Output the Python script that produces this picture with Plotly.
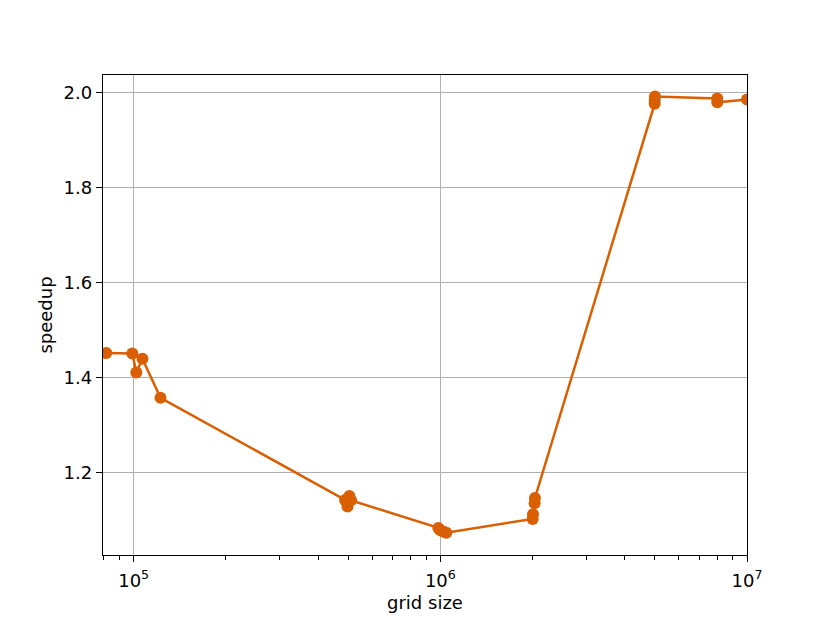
import plotly.graph_objs as go

grid_size = [81400, 99000, 102000, 106800, 122300,
             489000, 498000, 505000, 512000,
             985000, 1000000, 1025000, 1046000,
             2000000, 2005000, 2030000, 2035000,
             5000000, 5000000, 5010000,
             8000000, 8000000,
             10000000]
speedup = [1.451, 1.450, 1.410, 1.439, 1.357,
           1.142, 1.128, 1.150, 1.141,
           1.083, 1.078, 1.075, 1.073,
           1.102, 1.112, 1.135, 1.146,
           1.976, 1.984, 1.991,
           1.987, 1.979,
           1.985]

x_major = [1e5, 1e6, 1e7]
x_major_text = ['10<sup>5</sup>', '10<sup>6</sup>', '10<sup>7</sup>']
x_minor = [m * 10 ** d for d in (4, 5, 6) for m in range(2, 10)]
y_major = [1.2, 1.4, 1.6, 1.8, 2.0]

trace = go.Scatter(
	x=grid_size,
	y=speedup,
	mode='lines+markers',
	line=dict(color='#d95f02', width=2.5),
	marker=dict(color='#d95f02', size=12),
	showlegend=False
)

axis_style = dict(
	showline=True,
	linecolor='black',
	linewidth=1.3,
	mirror=True,
	ticks='outside',
	ticklen=6,
	tickwidth=1.3,
	tickcolor='black',
	showgrid=True,
	gridcolor='#b0b0b0',
	gridwidth=1.3,
	zeroline=False,
	tickfont=dict(size=18, color='black'),
)

# the page body has an 8px margin, so the figure is a bit smaller than the window
layout = go.Layout(
	width=822,
	height=615,
	autosize=False,
	paper_bgcolor='white',
	plot_bgcolor='white',
	font=dict(family='DejaVu Sans', size=18, color='black'),
	margin=dict(l=95, r=83, t=67, b=68, pad=0),
	xaxis=dict(
		type='log',
		range=[4.9, 7],
		tickmode='array',
		tickvals=x_major,
		ticktext=x_major_text,
		ticklabelstandoff=3,
		minor=dict(ticks='outside', tickvals=x_minor, ticklen=4,
			tickwidth=1.1, tickcolor='black', showgrid=False),
		title=dict(text='grid size', standoff=6, font=dict(size=18)),
		**axis_style
	),
	yaxis=dict(
		range=[1.026, 2.0364],
		tickmode='array',
		tickvals=y_major,
		tickformat='.1f',
		title=dict(text='speedup', standoff=6, font=dict(size=18)),
		**axis_style
	),
)

fig = go.Figure(data=[trace], layout=layout)
fig.write_html('out.html')
